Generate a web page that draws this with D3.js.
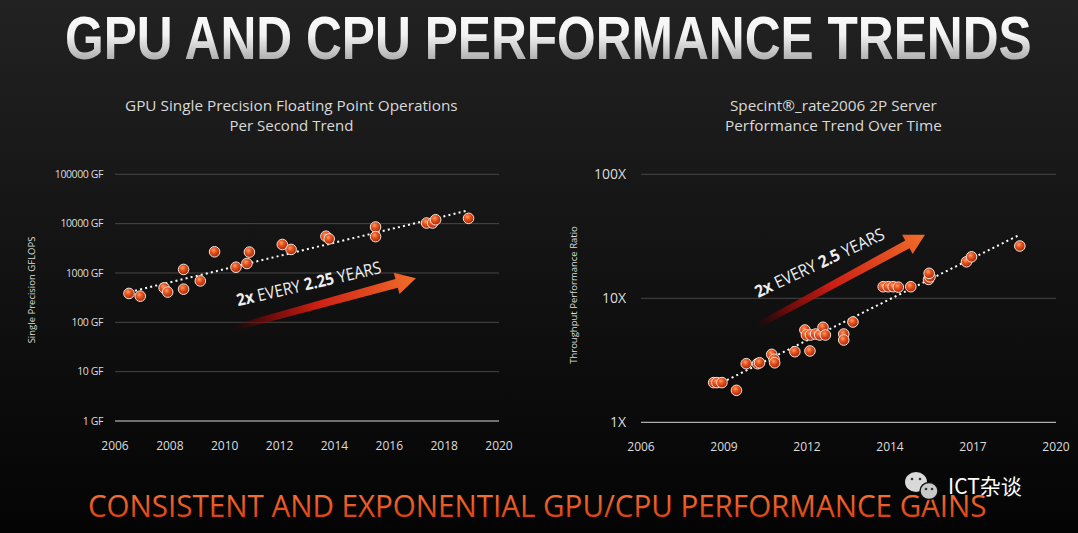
<!DOCTYPE html>
<html><head><meta charset="utf-8">
<script src="https://cdn.jsdelivr.net/npm/d3@7"></script>
<style>html,body{margin:0;padding:0;background:#000;overflow:hidden}</style>
</head><body><svg id="c" width="1078" height="533"></svg>
<script>
// ---------- text ----------
const mainTitle = "GPU AND CPU PERFORMANCE TRENDS";
const footerText = "CONSISTENT AND EXPONENTIAL GPU/CPU PERFORMANCE GAINS";
const gpuTitle = ["GPU Single Precision Floating Point Operations", "Per Second Trend"];
const cpuTitle = ["Specint\u00AE_rate2006 2P Server", "Performance Trend Over Time"];
const gpuYTitle = "Single Precision GFLOPS";
const cpuYTitle = "Throughput Performance Ratio";
const gpuArrowText = [["2x", true], [" EVERY ", false], ["2.25", true], [" YEARS", false]];
const cpuArrowText = [["2x", true], [" EVERY ", false], ["2.5", true], [" YEARS", false]];

// ---------- GPU chart data ----------
const gpuYTicks = [1, 10, 100, 1000, 10000, 100000];
const gpuYTickLabels = ["1 GF", "10 GF", "100 GF", "1000 GF", "10000 GF", "100000 GF"];
const gpuXTicks = [2006, 2008, 2010, 2012, 2014, 2016, 2018, 2020];
const gpuYears  = [2006.51, 2006.92, 2007.79, 2007.92, 2008.50, 2008.50, 2009.11, 2009.63, 2010.41, 2010.81, 2010.90, 2012.10, 2012.42, 2013.69, 2013.81, 2015.50, 2015.50, 2017.36, 2017.58, 2017.69, 2018.89];
const gpuValues = [385, 339, 500, 410, 1180, 470, 690, 2690, 1310, 1560, 2650, 3780, 3000, 5560, 4900, 8550, 5460, 10300, 10300, 12000, 12800];
const gpuTrendYears  = [2006.73, 2018.82];
const gpuTrendValues = [437, 18200];
const gpuArrowYears  = [2010.30, 2016.97];
const gpuArrowValues = [76, 785];

// ---------- CPU chart data ----------
const cpuYTicks = [1, 10, 100];
const cpuYTickLabels = ["1X", "10X", "100X"];
const cpuXTicks = [2006, 2008.8, 2011.6, 2014.4, 2017.2, 2020];
const cpuXTickLabels = ["2006", "2009", "2012", "2014", "2017", "2020"];
const cpuYears  = [2008.45, 2008.56, 2008.73, 2009.22, 2009.55, 2009.93, 2010.00, 2010.41, 2010.49, 2010.51, 2011.19, 2011.70, 2011.53, 2011.58, 2011.72, 2011.89, 2012.03, 2012.14, 2012.22, 2012.84, 2012.84, 2013.15, 2014.17, 2014.34, 2014.51, 2014.68, 2015.10, 2015.70, 2015.75, 2015.72, 2016.98, 2017.15, 2018.78];
const cpuValues = [2.09, 2.09, 2.09, 1.81, 2.97, 2.97, 3.02, 3.53, 3.22, 3.02, 3.71, 3.76, 5.55, 5.06, 5.06, 5.15, 5.06, 5.84, 5.06, 5.15, 4.61, 6.44, 12.4, 12.4, 12.4, 12.3, 12.4, 14.2, 14.9, 15.9, 19.7, 21.6, 26.4];
const cpuTrendYears  = [2008.9, 2018.76];
const cpuTrendValues = [2.19, 32.4];
const cpuArrowYears  = [2009.85, 2015.58];
const cpuArrowValues = [5.87, 32.5];

// ---------- drawing ----------
const svg = d3.select("#c");
const defs = svg.append("defs");
const FONT = "'Open Sans', 'Noto Sans', sans-serif";

function linGrad(id, stops, vertical) {
  const g = defs.append("linearGradient").attr("id", id)
    .attr("x1", 0).attr("y1", 0).attr("x2", vertical ? 0 : 1).attr("y2", vertical ? 1 : 0);
  stops.forEach(s => g.append("stop").attr("offset", s[0]).attr("stop-color", s[1]).attr("stop-opacity", s[2] == null ? 1 : s[2]));
}
linGrad("bg", [["0%", "#222222"], ["45%", "#141414"], ["100%", "#040404"]], true);
linGrad("titleFill", [["0%", "#ffffff"], ["45%", "#f2f2f2"], ["100%", "#8c8c8c"]], true);
linGrad("footFill", [["0%", "#f7844a"], ["50%", "#ec5a22"], ["100%", "#c7320f"]], true);
linGrad("arrowFill", [["0%", "#5a0000", 0], ["18%", "#900808", 0.7], ["45%", "#cc1e14"], ["100%", "#f26d2a"]], false);
const rg = defs.append("radialGradient").attr("id", "ball").attr("cx", "40%").attr("cy", "35%").attr("r", "65%");
[["0%", "#ff9e66"], ["40%", "#e9561f"], ["100%", "#a5260a"]].forEach(s => rg.append("stop").attr("offset", s[0]).attr("stop-color", s[1]));

svg.append("rect").attr("width", 1078).attr("height", 533).attr("fill", "url(#bg)");

// text squeezed horizontally to a target width via a transform (keeps real bbox)
function fitText(str, x, y, width, attrs) {
  const g = svg.append("g");
  const t = g.append("text").attr("x", 0).attr("y", 0);
  Object.entries(attrs).forEach(([k, v]) => t.attr(k, v));
  t.text(str);
  const nat = t.node().getComputedTextLength();
  g.attr("transform", `translate(${x},${y}) scale(${width / nat},1)`);
  return t;
}

// main title
fitText(mainTitle, 65, 59, 967, {"font-family": "'Liberation Sans', Arial, sans-serif", "font-weight": 700, "font-size": 61, "fill": "url(#titleFill)"});
// footer
fitText(footerText, 88, 517, 899, {"font-family": FONT, "font-size": 31, "fill": "url(#footFill)"});

function chartTitle(lines, cx, widths) {
  lines.forEach((t, i) => {
    fitText(t, cx - widths[i] / 2, 111 + i * 20, widths[i], {"font-family": FONT, "font-size": 15, "fill": "#d9d9d9"});
  });
}
chartTitle(gpuTitle, 291.5, [333, 124]);
chartTitle(cpuTitle, 833.5, [207, 217]);

function drawArrow(p0, p1, textParts, textOff, textAngle, textLen) {
  const dx = p1[0] - p0[0], dy = p1[1] - p0[1];
  const L = Math.hypot(dx, dy), ang = Math.atan2(dy, dx) * 180 / Math.PI;
  const hl = 20, hw = 11, w0 = 6, w1 = 9;
  const g = svg.append("g").attr("transform", `translate(${p0[0]},${p0[1]}) rotate(${ang})`);
  g.append("polygon").attr("fill", "url(#arrowFill)")
    .attr("points", [[0, -w0 / 2], [L - hl, -w1 / 2], [L - hl, -hw], [L, 0], [L - hl, hw], [L - hl, w1 / 2], [0, w0 / 2]].map(p => p.join(",")).join(" "));
  const tg = svg.append("g");
  const t = tg.append("text").attr("x", 0).attr("y", 0)
    .attr("font-family", FONT).attr("font-size", 17).attr("fill", "#eeeeee");
  textParts.forEach(p => t.append("tspan").attr("font-weight", p[1] ? 700 : 400).text(p[0]));
  const nat = t.node().getComputedTextLength();
  tg.attr("transform", `translate(${p0[0] + textOff[0]},${p0[1] + textOff[1]}) rotate(${textAngle}) scale(${textLen / nat},1)`);
}

function drawChart(cfg) {
  const x = d3.scaleLinear().domain([2006, 2020]).range(cfg.xRange);
  const y = d3.scaleLog().domain(cfg.yDomain).range(cfg.yRange);
  const g = svg.append("g");
  g.selectAll(".grid").data(cfg.yTicks).join("line")
    .attr("x1", cfg.xRange[0]).attr("x2", cfg.xRange[1])
    .attr("y1", d => y(d)).attr("y2", d => y(d))
    .attr("stroke", (d, i) => i === 0 ? "#d8d8d8" : "#474747").attr("stroke-width", 1);
  g.selectAll(".yl").data(cfg.yTicks).join("text")
    .attr("x", cfg.yLabelX).attr("y", d => y(d)).attr("dy", "0.35em")
    .attr("text-anchor", "end").attr("font-family", FONT).attr("font-size", cfg.yFont)
    .attr("letter-spacing", cfg.yLs).attr("fill", "#dddddd")
    .text((d, i) => cfg.yTickLabels[i]);
  g.selectAll(".xl").data(cfg.xTicks).join("text")
    .attr("x", d => x(d)).attr("y", cfg.xLabelY)
    .attr("text-anchor", "middle").attr("font-family", FONT).attr("font-size", 12)
    .attr("fill", "#dddddd")
    .text((d, i) => cfg.xTickLabels[i]);
  g.append("text").attr("transform", `translate(${cfg.yTitleX},${cfg.yTitleY}) rotate(-90)`)
    .attr("text-anchor", "middle").attr("font-family", FONT).attr("font-size", 9.5)
    .attr("fill", "#dddddd").text(cfg.yTitle);
  drawArrow([x(cfg.arrowYears[0]), y(cfg.arrowValues[0])], [x(cfg.arrowYears[1]), y(cfg.arrowValues[1])],
    cfg.arrowText, cfg.textOff, cfg.textAngle, cfg.textLen);
  const line = d3.line().x(d => x(d[0])).y(d => y(d[1]));
  g.append("path").datum(cfg.trendYears.map((yr, i) => [yr, cfg.trendValues[i]]))
    .attr("d", line).attr("fill", "none").attr("stroke", "#ffffff")
    .attr("stroke-width", 2).attr("stroke-dasharray", "2,3.2");
  svg.append("g").selectAll("circle").data(cfg.years.map((yr, i) => [yr, cfg.values[i]])).join("circle")
    .attr("cx", d => x(d[0])).attr("cy", d => y(d[1])).attr("r", 5.3)
    .attr("fill", "url(#ball)").attr("stroke", "#f6e6de").attr("stroke-width", 1);
}

drawChart({
  xRange: [115, 499], yDomain: [1, 100000], yRange: [421, 174.3],
  yTicks: gpuYTicks, yTickLabels: gpuYTickLabels, yLabelX: 103, yFont: 10.5, yLs: -0.4,
  xTicks: gpuXTicks, xTickLabels: gpuXTicks.map(String), xLabelY: 450,
  yTitle: gpuYTitle, yTitleX: 35, yTitleY: 290,
  years: gpuYears, values: gpuValues, trendYears: gpuTrendYears, trendValues: gpuTrendValues,
  arrowYears: gpuArrowYears, arrowValues: gpuArrowValues, arrowText: gpuArrowText,
  textOff: [5, -22], textAngle: -13, textLen: 148
});
drawChart({
  xRange: [641, 1056], yDomain: [1, 100], yRange: [422.3, 174.3],
  yTicks: cpuYTicks, yTickLabels: cpuYTickLabels, yLabelX: 626, yFont: 14, yLs: 0,
  xTicks: cpuXTicks, xTickLabels: cpuXTickLabels, xLabelY: 451,
  yTitle: cpuYTitle, yTitleX: 577, yTitleY: 295,
  years: cpuYears, values: cpuValues, trendYears: cpuTrendYears, trendValues: cpuTrendValues,
  arrowYears: cpuArrowYears, arrowValues: cpuArrowValues, arrowText: cpuArrowText,
  textOff: [3, -29], textAngle: -25, textLen: 141
});

// watermark
const wm = svg.append("g");
wm.append("ellipse").attr("cx", 916).attr("cy", 482).attr("rx", 11).attr("ry", 10).attr("fill", "#d9d9d9");
wm.append("ellipse").attr("cx", 929).attr("cy", 491).attr("rx", 9).attr("ry", 8.5).attr("fill", "#c9c9c9").attr("stroke", "#111").attr("stroke-width", 1.5);
[[912, 479], [920, 479], [926, 489], [932, 489]].forEach(p => wm.append("circle").attr("cx", p[0]).attr("cy", p[1]).attr("r", 1.3).attr("fill", "#333"));
wm.append("text").attr("x", 948).attr("y", 494).attr("font-family", "'Noto Sans CJK SC', sans-serif")
  .attr("font-size", 21).attr("fill", "#ffffff").text("ICT杂谈");
</script></body></html>
